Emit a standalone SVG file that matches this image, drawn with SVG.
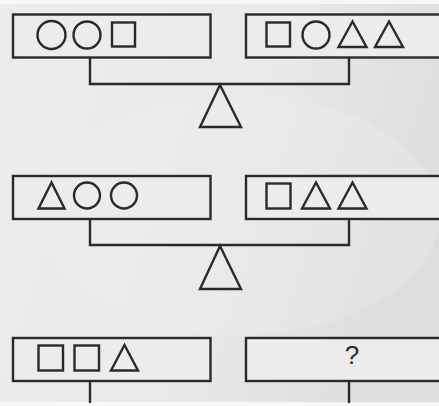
<svg xmlns="http://www.w3.org/2000/svg" width="439" height="406" viewBox="0 0 439 406">
<defs>
<linearGradient id="bg" x1="0" y1="0" x2="1" y2="0.3">
<stop offset="0" stop-color="#ececec"/>
<stop offset="0.6" stop-color="#e9e9e9"/>
<stop offset="1" stop-color="#dedede"/>
</linearGradient>
<style>
.box{fill:#ececec;stroke:#2a2a2a;stroke-width:2.4}
.sh{fill:none;stroke:#2a2a2a;stroke-width:2.4;stroke-linejoin:miter}
.ln{fill:none;stroke:#2a2a2a;stroke-width:2.4}
.q{font-family:"Liberation Sans",Arial,sans-serif;font-size:26px;fill:#2a2a2a}
</style>
</defs>
<rect width="439" height="406" fill="#f7f7f7"/>
<rect x="0" y="4" width="439" height="398" fill="url(#bg)"/>
<ellipse cx="240" cy="215" rx="200" ry="120" fill="#f0f0f0" opacity="0.3"/>

<g id="connectors">
<polyline class="ln" points="90,57.5 90,84 349,84 349,57.5"/>
<polygon class="sh" points="220,85 200,127 241,127"/>
<polyline class="ln" points="90,219 90,245 349,245 349,219"/>
<polygon class="sh" points="220,246 200,289 241,289"/>
<line class="ln" x1="90" y1="381" x2="90" y2="403"/>
<line class="ln" x1="349" y1="381" x2="349" y2="403"/>
</g>

<g id="r1-left">
<rect class="box" x="13" y="14.5" width="197.5" height="43"/>
<circle class="sh" cx="51.5" cy="35" r="14"/>
<circle class="sh" cx="87" cy="35" r="13.5"/>
<rect class="sh" x="112" y="22.5" width="23" height="24"/>
</g>
<g id="r1-right">
<rect class="box" x="246" y="14.5" width="200" height="43"/>
<rect class="sh" x="266.5" y="22.5" width="23.5" height="24"/>
<circle class="sh" cx="316" cy="35" r="13.5"/>
<polygon class="sh" points="352.5,21.5 338.5,47 366.5,47"/>
<polygon class="sh" points="389,21.5 375,47 403,47"/>
</g>

<g id="r2-left">
<rect class="box" x="13" y="176" width="197.5" height="43"/>
<polygon class="sh" points="51.5,182.5 38.5,208.5 64.5,208.5"/>
<circle class="sh" cx="87" cy="195.5" r="13"/>
<circle class="sh" cx="124" cy="195.5" r="13"/>
</g>
<g id="r2-right">
<rect class="box" x="246" y="176" width="200" height="43"/>
<rect class="sh" x="266.5" y="183.5" width="24" height="25"/>
<polygon class="sh" points="316,182.5 302,208.5 330,208.5"/>
<polygon class="sh" points="352.5,182.5 338.5,208.5 366.5,208.5"/>
</g>

<g id="r3-left">
<rect class="box" x="13" y="338" width="197.5" height="43"/>
<rect class="sh" x="38.5" y="345.5" width="24.5" height="25"/>
<rect class="sh" x="74.5" y="345.5" width="24.5" height="25"/>
<polygon class="sh" points="124.5,345 111,370.5 138,370.5"/>
</g>
<g id="r3-right">
<rect class="box" x="246" y="338" width="200" height="43"/>
<text class="q" x="352" y="364" text-anchor="middle">?</text>
</g>
</svg>
